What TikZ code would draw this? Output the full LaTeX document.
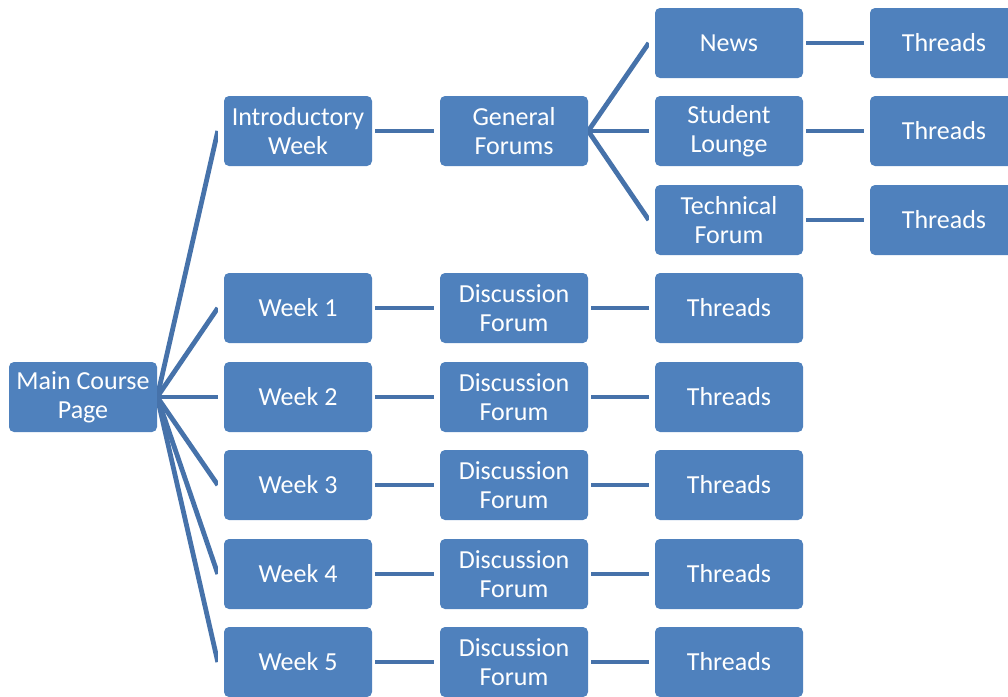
\documentclass[tikz,border=0pt]{standalone}
\usepackage{fontspec}
\setmainfont{Carlito}
\usetikzlibrary{calc}
\definecolor{boxblue}{HTML}{4F81BD}
\definecolor{linkblue}{HTML}{4672AA}
\tikzset{
  box/.style={draw=none, fill=boxblue, rounded corners=5pt, minimum width=148pt, minimum height=70pt,
    inner sep=0pt, text=white, align=center, font=\fontsize{26}{29}\selectfont},
  link/.style={draw=linkblue, line width=4.8pt},
}
\begin{document}
\begin{tikzpicture}[x=1pt,y=-1pt]
\useasboundingbox (0,0) rectangle (1008,696);
\begin{scope}
\clip (0,0) rectangle (1008,696);
% column 1
\node[box] (main) at (83,397) {Main Course\\Page};
% column 2
\node[box] (intro) at (298,131) {Introductory\\Week};
\node[box] (w1) at (298,308) {Week 1};
\node[box] (w2) at (298,397) {Week 2};
\node[box] (w3) at (298,485) {Week 3};
\node[box] (w4) at (298,574) {Week 4};
\node[box] (w5) at (298,662) {Week 5};
% column 3
\node[box] (gen) at (514,131) {General\\Forums};
\node[box] (d1) at (514,308) {Discussion\\Forum};
\node[box] (d2) at (514,397) {Discussion\\Forum};
\node[box] (d3) at (514,485) {Discussion\\Forum};
\node[box] (d4) at (514,574) {Discussion\\Forum};
\node[box] (d5) at (514,662) {Discussion\\Forum};
% column 4
\node[box] (news) at (729,43) {News};
\node[box] (lounge) at (729,131) {Student\\Lounge};
\node[box] (tech) at (729,220) {Technical\\Forum};
\node[box] (t1) at (729,308) {Threads};
\node[box] (t2) at (729,397) {Threads};
\node[box] (t3) at (729,485) {Threads};
\node[box] (t4) at (729,574) {Threads};
\node[box] (t5) at (729,662) {Threads};
% column 5
\node[box] (tn) at (944,43) {Threads};
\node[box] (tl) at (944,131) {Threads};
\node[box] (tt) at (944,220) {Threads};
\end{scope}
% fan from main page
\begin{scope}
\clip (main.east) ++(0,-400) rectangle ($(intro.west)+(-6,700)$);
\foreach \t in {intro,w1,w2,w3,w4,w5}
  \draw[link] (main.east) -- ($(\t.west)+(-6,0)$);
\end{scope}
% fan from general forums
\begin{scope}
\clip (gen.east) ++(0,-200) rectangle ($(news.west)+(-6,300)$);
\foreach \t in {news,lounge,tech}
  \draw[link] (gen.east) -- ($(\t.west)+(-6,0)$);
\end{scope}
% straight links
\foreach \a/\b in {intro/gen,w1/d1,w2/d2,w3/d3,w4/d4,w5/d5,d1/t1,d2/t2,d3/t3,d4/t4,d5/t5,news/tn,lounge/tl,tech/tt}
  \draw[link] ($(\a.east)+(3,0)$) -- ($(\b.west)+(-6,0)$);
\end{tikzpicture}
\end{document}
